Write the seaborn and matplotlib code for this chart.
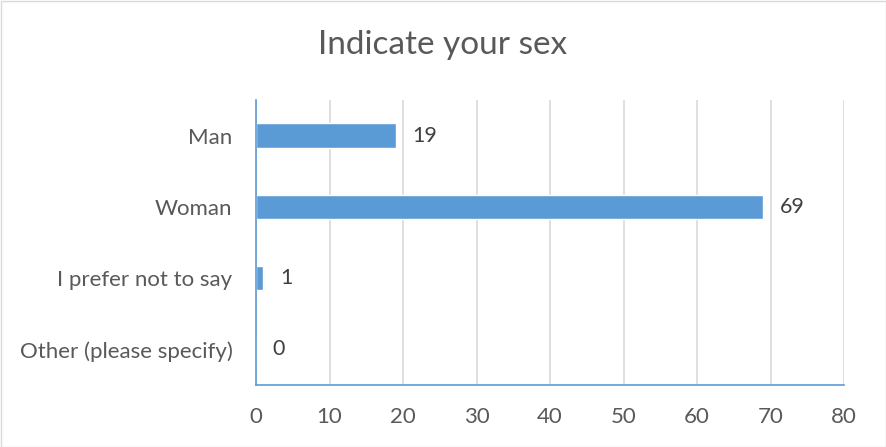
import matplotlib
matplotlib.use("Agg")
import matplotlib.pyplot as plt
import seaborn as sns
import pandas as pd
from matplotlib.patches import Rectangle

categories = ["Man", "Woman", "I prefer not to say", "Other (please specify)"]
values = [19, 69, 1, 0]
xticks = [0, 10, 20, 30, 40, 50, 60, 70, 80]
title = "Indicate your sex"

sns.set_theme(style="white")
plt.rcParams['font.family'] = ['Lato', 'DejaVu Sans']

df = pd.DataFrame({"cat": categories, "val": values})
fig = plt.figure(figsize=(8.86, 4.47), dpi=100)
ax = fig.add_axes([256/886, 1-385/447, (844-256)/886, (385-100)/447])
txt = "#595959"
bar_color = "#5B9BD5"

sns.barplot(data=df, y="cat", x="val", order=categories, color=bar_color,
            saturation=1, width=0.345, ax=ax, orient="h")

ax.set_xlim(0, 80)
ax.set_xticks(xticks)
ax.set_xticklabels([str(t) for t in xticks])
ax.set_ylim(3.5, -0.5)
ax.xaxis.grid(True, color="#D9D9D9", linewidth=1.2)
ax.set_axisbelow(True)
ax.set_xlabel("")
ax.set_ylabel("")
for s in ["top", "right"]:
    ax.spines[s].set_visible(False)
for s in ["left", "bottom"]:
    ax.spines[s].set_color(bar_color)
    ax.spines[s].set_linewidth(1.2)
ax.tick_params(axis="both", length=0, labelsize=16, colors=txt)
ax.tick_params(axis="x", pad=16)
ax.tick_params(axis="y", pad=17)

for i, v in enumerate(values):
    ax.annotate(str(v), xy=(v, i), xytext=(12, 0), textcoords="offset points",
                va="center", ha="left", fontsize=15.5, color="#404040")

fig.text(0.5, 1-45/447, title, ha="center", va="center", fontsize=24,
         color=txt)
fig.patches.append(Rectangle((0.5/886, 0.5/447), 1-1/886, 1-1/447,
                             transform=fig.transFigure, fill=False,
                             edgecolor="#D9D9D9", linewidth=1))
fig.savefig("out.png", dpi=100)
